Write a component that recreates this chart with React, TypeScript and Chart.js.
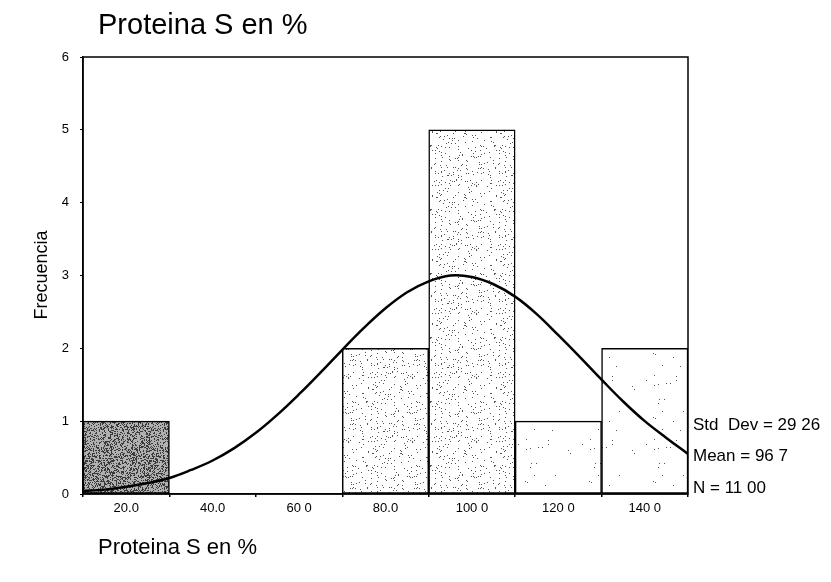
import React, { useEffect, useRef } from "react";
import { Chart, registerables } from "chart.js";

Chart.register(...registerables);

const binCenters = [20, 40, 60, 80, 100, 120, 140];
const frequencies = [1, 0, 0, 2, 5, 1, 2];
const xTickValues = [20, 40, 60, 80, 100, 120, 140];
const xTickLabels = ["20.0", "40.0", "60 0", "80.0", "100 0", "120 0", "140 0"];
const yTickValues = [0, 1, 2, 3, 4, 5, 6];
const curveX = [10, 15, 20, 25, 30, 35, 40, 45, 50, 55, 60, 65, 70, 75, 80, 85, 90, 95, 100, 105, 110, 115, 120, 125, 130, 135, 140, 145, 150];
const curveY = [0.04, 0.06, 0.1, 0.15, 0.22, 0.33, 0.46, 0.63, 0.84, 1.09, 1.37, 1.67, 1.98, 2.28, 2.55, 2.77, 2.92, 3.0, 2.98, 2.88, 2.71, 2.47, 2.18, 1.88, 1.57, 1.27, 1.0, 0.77, 0.55];
const titleText = "Proteina S en %";
const yTitleText = "Frecuencia";
const xTitleText = "Proteina S en %";
const statsLines = ["Std  Dev = 29 26", "Mean = 96 7", "N = 11 00"];

const FONT = "'Liberation Sans', Arial, sans-serif";

function makePattern(density: number, base: string, dot: string, seed: number) {
  const c = document.createElement("canvas");
  c.width = 64;
  c.height = 64;
  const g = c.getContext("2d")!;
  g.fillStyle = base;
  g.fillRect(0, 0, 64, 64);
  g.fillStyle = dot;
  let s = seed;
  const next = () => {
    s = (s * 1103515245 + 12345) % 2147483648;
    return s / 2147483648;
  };
  const n = Math.round(64 * 64 * density);
  for (let i = 0; i < n; i++) {
    const x = Math.floor(next() * 64);
    const y = Math.floor(next() * 64);
    g.fillRect(x, y, 1, 1);
  }
  return g.createPattern(c, "repeat")!;
}

export default function App() {
  const ref = useRef<HTMLCanvasElement>(null);
  useEffect(() => {
    if (!ref.current) return;
    const dark = makePattern(0.45, "#b0b0b0", "#3a3a3a", 7);
    const light = makePattern(0.05, "#ffffff", "#555555", 11);
    const sparse = makePattern(0.005, "#ffffff", "#555555", 13);
    const fills = [dark, "#ffffff", "#ffffff", light, light, sparse, sparse];

    const decor = {
      id: "decor",
      afterDraw(chart: any) {
        const { ctx, chartArea } = chart;
        ctx.save();
        ctx.strokeStyle = "#000";
        ctx.lineWidth = 1.5;
        ctx.strokeRect(chartArea.left, chartArea.top, chartArea.right - chartArea.left, chartArea.bottom - chartArea.top);
        ctx.fillStyle = "#000";
        ctx.textBaseline = "middle";
        ctx.textAlign = "left";
        ctx.font = `29px ${FONT}`;
        ctx.fillText(titleText, 98, 26);
        ctx.font = `22px ${FONT}`;
        ctx.fillText(xTitleText, 98, 548);
        ctx.font = `17px ${FONT}`;
        statsLines.forEach((t, i) => ctx.fillText(t, chartArea.right + 5, 425 + i * 31.5));
        ctx.save();
        ctx.translate(42, 275);
        ctx.rotate(-Math.PI / 2);
        ctx.textAlign = "center";
        ctx.font = `18px ${FONT}`;
        ctx.fillText(yTitleText, 0, 0);
        ctx.restore();
        ctx.restore();
      },
    };

    const chart = new Chart(ref.current, {
      type: "bar",
      data: {
        datasets: [
          {
            type: "line",
            data: curveX.map((x, i) => ({ x, y: curveY[i] })),
            borderColor: "#000",
            borderWidth: 2.5,
            pointRadius: 0,
            fill: false,
            tension: 0.4,
            order: 0,
          } as any,
          {
            type: "bar",
            data: binCenters.map((x, i) => ({ x, y: frequencies[i] })),
            backgroundColor: fills as any,
            borderColor: "#000",
            borderWidth: 1.5,
            borderSkipped: false,
            barPercentage: 1,
            categoryPercentage: 1,
            order: 1,
          } as any,
        ],
      },
      options: {
        responsive: false,
        animation: false,
        layout: { padding: { left: 53, top: 57, right: 143, bottom: 58 } },
        plugins: { legend: { display: false }, tooltip: { enabled: false }, title: { display: false } },
        scales: {
          x: {
            type: "linear",
            min: 10,
            max: 150,
            offset: false,
            afterBuildTicks: (s: any) => {
              s.ticks = xTickValues.map((v) => ({ value: v }));
            },
            afterFit: (s: any) => {
              s.height = 30;
            },
            grid: { display: true, drawOnChartArea: false, tickLength: 3, color: "#000", lineWidth: 1.5 },
            border: { display: true, color: "#000", width: 1.5 },
            ticks: {
              autoSkip: false,
              maxRotation: 0,
              padding: 4,
              color: "#000",
              font: { family: FONT, size: 13 },
              callback: (v: any) => {
                const i = xTickValues.indexOf(Number(v));
                return i >= 0 ? xTickLabels[i] : "";
              },
            },
          },
          y: {
            min: 0,
            max: 6,
            afterBuildTicks: (s: any) => {
              s.ticks = yTickValues.map((v) => ({ value: v }));
            },
            afterFit: (s: any) => {
              s.width = 30;
            },
            grid: { display: true, drawOnChartArea: false, tickLength: 3, color: "#000", lineWidth: 1 },
            border: { display: true, color: "#000", width: 1.5 },
            ticks: { padding: 11, color: "#000", font: { family: FONT, size: 13 } },
          },
        },
      } as any,
      plugins: [decor],
    });
    return () => chart.destroy();
  }, []);
  return (
    <canvas
      ref={ref}
      width={831}
      height={582}
      style={{ position: "fixed", left: 0, top: 0, display: "block", background: "#fff" }}
    />
  );
}
